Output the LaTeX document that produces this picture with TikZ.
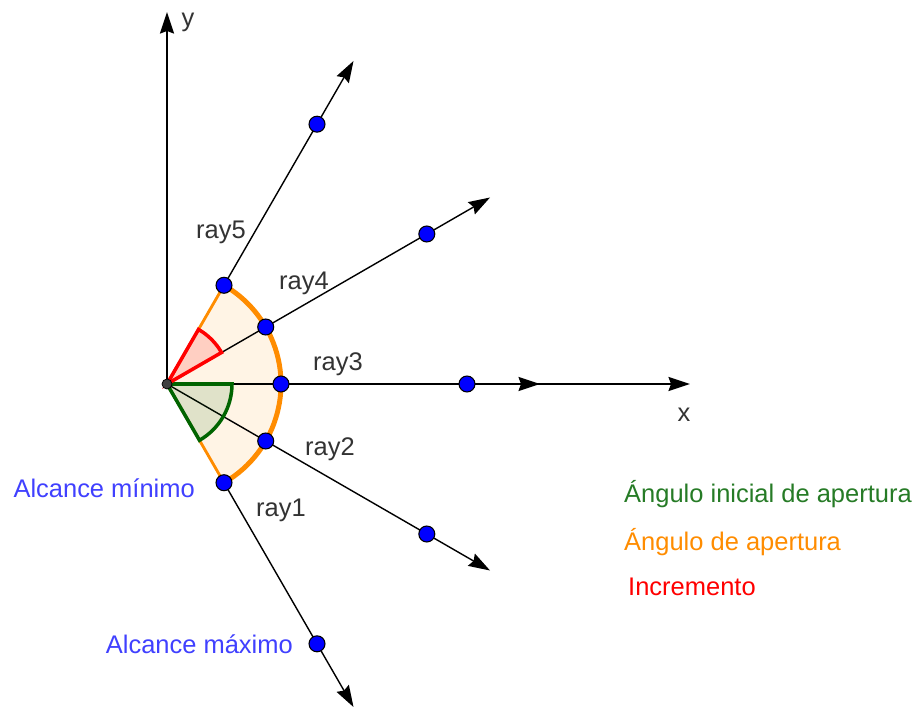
\documentclass[tikz,border=0pt]{standalone}
\usepackage{fontspec}
\setmainfont{Liberation Sans}
\usetikzlibrary{arrows.meta}
\definecolor{ptblue}{RGB}{0,0,255}
\definecolor{labelblue}{RGB}{64,64,255}
\definecolor{inigreen}{RGB}{0,100,0}
\definecolor{apeorange}{RGB}{255,140,0}
\definecolor{incred}{RGB}{255,0,0}
\definecolor{txtgrey}{RGB}{51,51,51}
\tikzset{
  tip/.style={-{Stealth[length=4.3mm,width=2.8mm,inset=0.5mm]}},
  axis/.style={tip, line width=1.1pt},
  ray/.style={tip, line width=0.8pt},
  pt/.style={circle, fill=ptblue, draw=black, line width=0.6pt, inner sep=0pt, minimum size=3.2mm},
  lbl/.style={text=txtgrey, font=\fontsize{14.5}{17}\selectfont},
  leg/.style={anchor=west, font=\fontsize{14.5}{17}\selectfont},
}
\begin{document}
\begin{tikzpicture}[x=2cm,y=2cm]
\useasboundingbox (-1.67,-3.22) rectangle (7.53,3.84);
\coordinate (O) at (0,0);
\coordinate (xend) at (5.23,0);
\coordinate (yend) at (0,3.72);
% opening sector
\fill[apeorange!10] (O) -- (-60:1.14) arc[start angle=-60,end angle=60,radius=1.14] -- cycle;
% axes and rays
\draw[axis] (O) -- (xend);
\draw[axis] (O) -- (yend);
\foreach \i/\a in {1/-60,2/-30,3/0,4/30,5/60} {
  \coordinate (end\i) at (\a:3.73);
  \draw[ray] (O) -- (end\i);
}
\draw[apeorange, line width=1.6pt] (-60:1.14) -- (O) -- (60:1.14);
\draw[apeorange, line width=2.8pt] (-60:1.14) arc[start angle=-60,end angle=60,radius=1.14];
% initial angle and increment
\draw[inigreen, line width=2pt, fill=inigreen, fill opacity=0.12] (O) -- (0.65,0)
      arc[start angle=0,end angle=-60,radius=0.65] -- cycle;
\draw[incred, line width=2pt, fill=incred, fill opacity=0.15] (O) -- (30:0.63)
      arc[start angle=30,end angle=60,radius=0.63] -- cycle;
% points
\foreach \i/\a in {1/-60,2/-30,3/0,4/30,5/60} {
  \node[pt] (min\i) at (\a:1.14) {};
  \node[pt] (max\i) at (\a:3.0) {};
}
\node[circle, fill=darkgray, draw=black, line width=0.4pt, inner sep=0pt, minimum size=2mm] (orig) at (O) {};
% labels
\node[lbl] (ylab) at (0.21,3.62) {y};
\node[lbl] (xlab) at (5.17,-0.31) {x};
\node[lbl] (lab5) at (0.54,1.52) {ray5};
\node[lbl] (lab4) at (1.37,1.01) {ray4};
\node[lbl] (lab3) at (1.71,0.20) {ray3};
\node[lbl] (lab2) at (1.63,-0.65) {ray2};
\node[lbl] (lab1) at (1.14,-1.26) {ray1};
\node[lbl, text=labelblue, anchor=east] (minlab) at (0.34,-1.04) {Alcance mínimo};
\node[lbl, text=labelblue, anchor=east] (maxlab) at (1.32,-2.60) {Alcance máximo};
\node[leg, text=inigreen!85!white] (leg1) at (4.51,-1.10) {Ángulo inicial de apertura};
\node[leg, text=apeorange] (leg2) at (4.51,-1.58) {Ángulo de apertura};
\node[leg, text=incred] (leg3) at (4.55,-2.03) {Incremento};
\end{tikzpicture}
\end{document}
